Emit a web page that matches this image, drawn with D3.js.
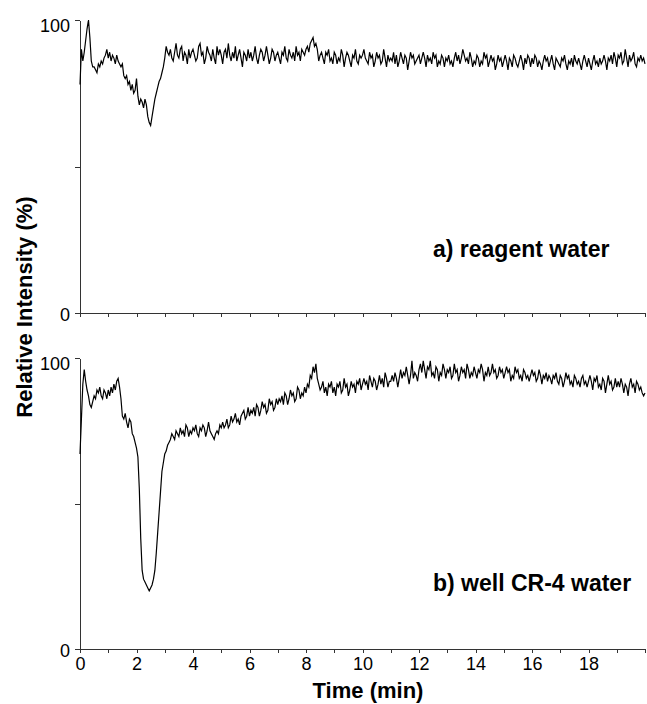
<!DOCTYPE html>
<meta charset="utf-8">
<head>
<style>
body { margin: 0; background: #fff; }
svg text { font-family: "Liberation Sans", Arial, sans-serif; fill: #000; }
.axis path, .axis line { stroke: #333; shape-rendering: crispEdges; }
.axis text { font-size: 18px; }
.trace { fill: none; stroke: #000; stroke-width: 1.2; }
.label { font-size: 22px; font-weight: bold; }
.panel-name { font-size: 23px; font-weight: bold; }
</style>
</head>
<body>
<svg id="chart"></svg>

<script src="https://d3js.org/d3.v7.min.js"></script>
<script>

// one point every 0.05 min, 0 .. 20 min
var sampleStep = 0.05;

var xTickValues = [0,1,2,3,4,5,6,7,8,9,10,11,12,13,14,15,16,17,18,19,20];
var xTickLabels = ["0","","2","","4","","6","","8","","10","","12","","14","","16","","18","",""];
var yTickValues = [0, 50, 100];
var yTickLabels = ["0", "", "100"];

// a) reagent water, relative intensity (%)
var reagentWater = [
  78, 90, 86, 89, 93, 97, 100, 94, 86, 84, 84, 83, 82, 85, 84, 86, 85, 87, 88, 90,
  87, 89, 86, 88, 87, 85, 88, 86, 85, 84, 85, 81, 80, 81, 78, 79, 76, 78, 75, 76,
  80, 74, 71, 73, 72, 70, 73, 71, 67, 65, 64, 67, 70, 73, 75, 77, 79, 80, 82, 84,
  87, 91, 89, 88, 90, 87, 86, 89, 92, 88, 87, 90, 91, 86, 89, 88, 85, 90, 87, 89,
  90, 88, 86, 87, 91, 92, 88, 89, 85, 87, 91, 89, 88, 86, 90, 87, 85, 91, 88, 90,
  88, 85, 89, 90, 87, 92, 88, 86, 89, 87, 91, 86, 88, 90, 87, 84, 89, 88, 86, 90,
  87, 89, 86, 88, 91, 87, 85, 88, 90, 89, 86, 88, 91, 88, 85, 87, 90, 89, 86, 88,
  89, 87, 85, 89, 88, 91, 87, 86, 90, 88, 87, 89, 86, 91, 88, 89, 86, 90, 89, 88,
  90, 91, 89, 92, 93, 94, 91, 92, 90, 86, 88, 89, 87, 85, 89, 88, 90, 86, 87, 85,
  89, 88, 85, 87, 86, 90, 88, 84, 87, 89, 88, 86, 84, 88, 87, 90, 86, 85, 88, 87,
  88, 90, 87, 86, 85, 89, 87, 88, 84, 86, 89, 87, 88, 85, 86, 90, 87, 84, 88, 86,
  87, 86, 89, 85, 88, 84, 86, 89, 87, 85, 88, 87, 83, 86, 89, 87, 88, 85, 86, 87,
  88, 85, 87, 89, 87, 84, 88, 86, 87, 85, 89, 87, 88, 84, 86, 85, 88, 87, 84, 87,
  86, 88, 85, 86, 84, 87, 89, 86, 88, 85, 87, 90, 88, 86, 87, 85, 89, 87, 84, 86,
  85, 88, 87, 84, 86, 85, 89, 87, 88, 84, 86, 88, 86, 87, 83, 85, 88, 86, 87, 84,
  86, 88, 86, 83, 87, 86, 84, 88, 87, 85, 84, 86, 88, 86, 83, 87, 85, 88, 87, 84,
  87, 85, 88, 87, 84, 86, 85, 83, 86, 88, 86, 87, 84, 86, 88, 85, 83, 87, 86, 85,
  84, 87, 86, 88, 85, 83, 86, 85, 87, 84, 88, 86, 85, 87, 85, 83, 86, 88, 86, 84,
  87, 85, 83, 86, 88, 85, 86, 84, 87, 85, 86, 88, 86, 83, 87, 86, 88, 85, 89, 87,
  84, 88, 87, 89, 85, 86, 90, 87, 84, 88, 86, 87, 89, 85, 84, 87, 86, 88, 86, 87,
  85
];

// b) well CR-4 water, relative intensity (%)
var wellWater = [
  67, 79, 91, 96, 92, 89, 87, 84, 83, 85, 87, 86, 89, 88, 90, 87, 86, 89, 88, 86,
  89, 87, 90, 88, 91, 89, 92, 93, 90, 86, 80, 79, 81, 78, 76, 79, 78, 74, 73, 71,
  69, 66, 55, 38, 27, 24, 23, 22, 21, 20, 21, 22, 24, 27, 33, 40, 47, 54, 61, 64,
  67, 68, 70, 71, 72, 74, 73, 72, 75, 74, 73, 76, 74, 75, 73, 77, 76, 73, 75, 74,
  76, 75, 77, 74, 73, 76, 75, 77, 76, 73, 75, 78, 75, 74, 73, 72, 74, 75, 74, 77,
  76, 78, 76, 77, 79, 76, 77, 80, 78, 79, 81, 78, 79, 77, 80, 81, 82, 79, 80, 83,
  80, 82, 81, 83, 80, 84, 83, 80, 82, 85, 83, 84, 81, 82, 86, 84, 85, 82, 83, 86,
  84, 86, 85, 87, 84, 88, 87, 84, 86, 89, 87, 88, 85, 86, 90, 89, 86, 88, 87, 90,
  88, 91, 90, 94, 93, 97, 95, 98, 93, 91, 89, 90, 92, 88, 90, 87, 91, 90, 92, 88,
  90, 87, 91, 90, 92, 88, 89, 93, 90, 91, 87, 89, 92, 90, 91, 88, 92, 91, 93, 89,
  91, 93, 91, 92, 89, 94, 92, 90, 93, 92, 89, 91, 94, 91, 93, 90, 95, 93, 90, 92,
  92, 94, 92, 95, 93, 90, 93, 96, 93, 95, 94, 97, 94, 91, 94, 99, 93, 95, 94, 92,
  96, 98, 95, 99, 96, 93, 97, 96, 99, 94, 95, 93, 97, 96, 92, 95, 94, 98, 96, 93,
  96, 95, 97, 93, 94, 98, 95, 96, 92, 94, 97, 95, 96, 93, 98, 96, 93, 95, 94, 97,
  95, 93, 96, 95, 98, 96, 92, 95, 94, 97, 94, 95, 98, 95, 96, 93, 94, 97, 95, 96,
  93, 95, 97, 95, 96, 92, 94, 93, 97, 95, 96, 93, 94, 92, 96, 95, 93, 94, 92, 94,
  96, 94, 95, 92, 93, 96, 94, 91, 94, 93, 95, 92, 94, 93, 91, 94, 93, 95, 92, 91,
  94, 93, 90, 92, 95, 93, 94, 91, 92, 90, 94, 93, 91, 92, 90, 93, 94, 91, 92, 90,
  92, 94, 92, 89, 93, 92, 94, 90, 91, 89, 93, 92, 88, 91, 94, 91, 92, 89, 90, 93,
  90, 92, 90, 93, 91, 88, 91, 90, 87, 91, 93, 90, 91, 88, 92, 91, 89, 90, 88, 87,
  88
];

var panels = [
  {name: "a) reagent water", values: reagentWater, top: 20, bottom: 313, labelY: 257, showX: false},
  {name: "b) well CR-4 water", values: wellWater, top: 358, bottom: 649, labelY: 591, showX: true}
];

var svg = d3.select("#chart")
    .attr("width", 647)
    .attr("height", 704);

var x = d3.scaleLinear()
    .domain([0, 20])
    .range([80, 645]);

panels.forEach(function(p) {

  var y = d3.scaleLinear()
      .domain([0, 100])
      .range([p.bottom, p.top]);

  var xAxis = d3.axisBottom(x)
      .tickValues(xTickValues)
      .tickSize(4)
      .tickSizeOuter(0)
      .tickPadding(4)
      .tickFormat(function(d, i) { return p.showX ? xTickLabels[i] : ""; });

  var yAxis = d3.axisLeft(y)
      .tickValues(yTickValues)
      .tickSize(5)
      .tickSizeOuter(0)
      .tickPadding(5)
      .tickFormat(function(d, i) { return yTickLabels[i]; });

  svg.append("g")
      .attr("class", "x axis")
      .attr("transform", "translate(0," + p.bottom + ")")
      .call(xAxis);

  var gy = svg.append("g")
      .attr("class", "y axis")
      .attr("transform", "translate(80,0)")
      .call(yAxis);

  // labels sit a little under their ticks in the original
  gy.selectAll(".tick text")
      .attr("dy", function(d) { return d == 100 ? "0.62em" : "0.42em"; });

  svg.selectAll(".axis").attr("font-family", null).attr("font-size", null);

  var line = d3.line()
      .x(function(d, i) { return x(i * sampleStep); })
      .y(function(d) { return y(d); });

  svg.append("path")
      .datum(p.values)
      .attr("class", "trace")
      .attr("d", line);

  svg.append("text")
      .attr("class", "panel-name")
      .attr("x", 433)
      .attr("y", p.labelY)
      .text(p.name);
});

svg.append("text")
    .attr("class", "label")
    .attr("text-anchor", "middle")
    .attr("transform", "translate(32,307) rotate(-90)")
    .text("Relative Intensity (%)");

svg.append("text")
    .attr("class", "label")
    .attr("text-anchor", "middle")
    .attr("x", 368)
    .attr("y", 698)
    .text("Time (min)");

</script>
</body>
